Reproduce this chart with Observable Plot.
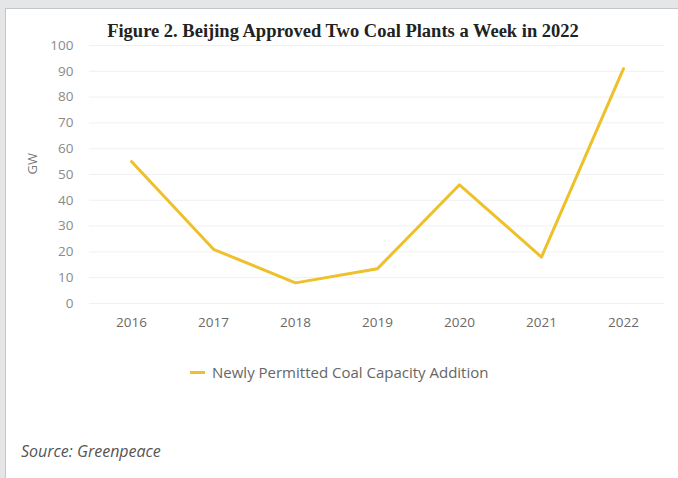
<!DOCTYPE html>
<html>
<head>
<meta charset="utf-8">
<script src="https://cdn.jsdelivr.net/npm/d3@7"></script>
<script src="https://cdn.jsdelivr.net/npm/@observablehq/plot@0.6"></script>
<style>
  html, body { margin: 0; padding: 0; }
  body { width: 678px; height: 478px; background: #e5e6e8; position: relative; overflow: hidden; font-family: "Open Sans", sans-serif; }
  #panel { position: absolute; left: 5px; top: 8px; right: 0; bottom: 0; background: #fff; border-left: 1px solid #c4c5c7; border-top: 1px solid #c4c5c7; }
  #title { position: absolute; left: 0; width: 686px; top: 20px; text-align: center; font-family: "Liberation Serif", "DejaVu Serif", serif; font-weight: bold; font-size: 18.5px; color: #222; line-height: 22px; }
  #chart { position: absolute; left: 0; top: 0; }
  #legend { position: absolute; left: 190px; top: 362px; font-size: 15px; color: #666; display: flex; align-items: center; line-height: 20px; }
  #legend .sw { display: inline-block; width: 15px; height: 3px; background: #eec02a; margin-right: 7px; }
  #source { position: absolute; left: 21px; top: 440px; font-size: 16px; font-style: italic; color: #555; line-height: 22px; }
</style>
</head>
<body>
<div id="panel"></div>
<div id="chart"></div>
<div id="title">Figure 2. Beijing Approved Two Coal Plants a Week in 2022</div>
<div id="legend"><span class="sw"></span><span id="legendText"></span></div>
<div id="source">Source: Greenpeace</div>
<script>
const years = ["2016", "2017", "2018", "2019", "2020", "2021", "2022"];
const capacity = [55, 21, 8, 13.5, 46, 18, 91];
const yTicks = [0, 10, 20, 30, 40, 50, 60, 70, 80, 90, 100];
const seriesName = "Newly Permitted Coal Capacity Addition";
const yLabel = "GW";

const data = years.map((y, i) => ({year: y, value: capacity[i]}));

const chart = Plot.plot({
  width: 678,
  height: 340,
  marginLeft: 89,
  marginRight: 14,
  marginTop: 45,
  marginBottom: 37,
  style: { background: "transparent", fontFamily: "Open Sans, sans-serif", fontSize: "13.5px" },
  x: { type: "point", domain: years, padding: 0.5, label: null },
  y: { domain: [0, 100], label: null },
  marks: [
    Plot.ruleY(yTicks, { stroke: "#f1f1f1", strokeWidth: 1 }),
    Plot.axisY({ ticks: yTicks, tickSize: 0, tickPadding: 16, label: null, color: "#8a8a8a" }),
    Plot.axisX({ tickSize: 0, tickPadding: 14, label: null, color: "#6a6a6a" }),
    Plot.text([yLabel], { frameAnchor: "left", dx: -57, dy: 0, rotate: -90, fill: "#777", fontSize: 13 }),
    Plot.line(data, { x: "year", y: "value", stroke: "#eec02a", strokeWidth: 3, strokeLinejoin: "round" })
  ]
});
document.getElementById("chart").appendChild(chart);
document.getElementById("legendText").textContent = seriesName;
</script>
</body>
</html>
